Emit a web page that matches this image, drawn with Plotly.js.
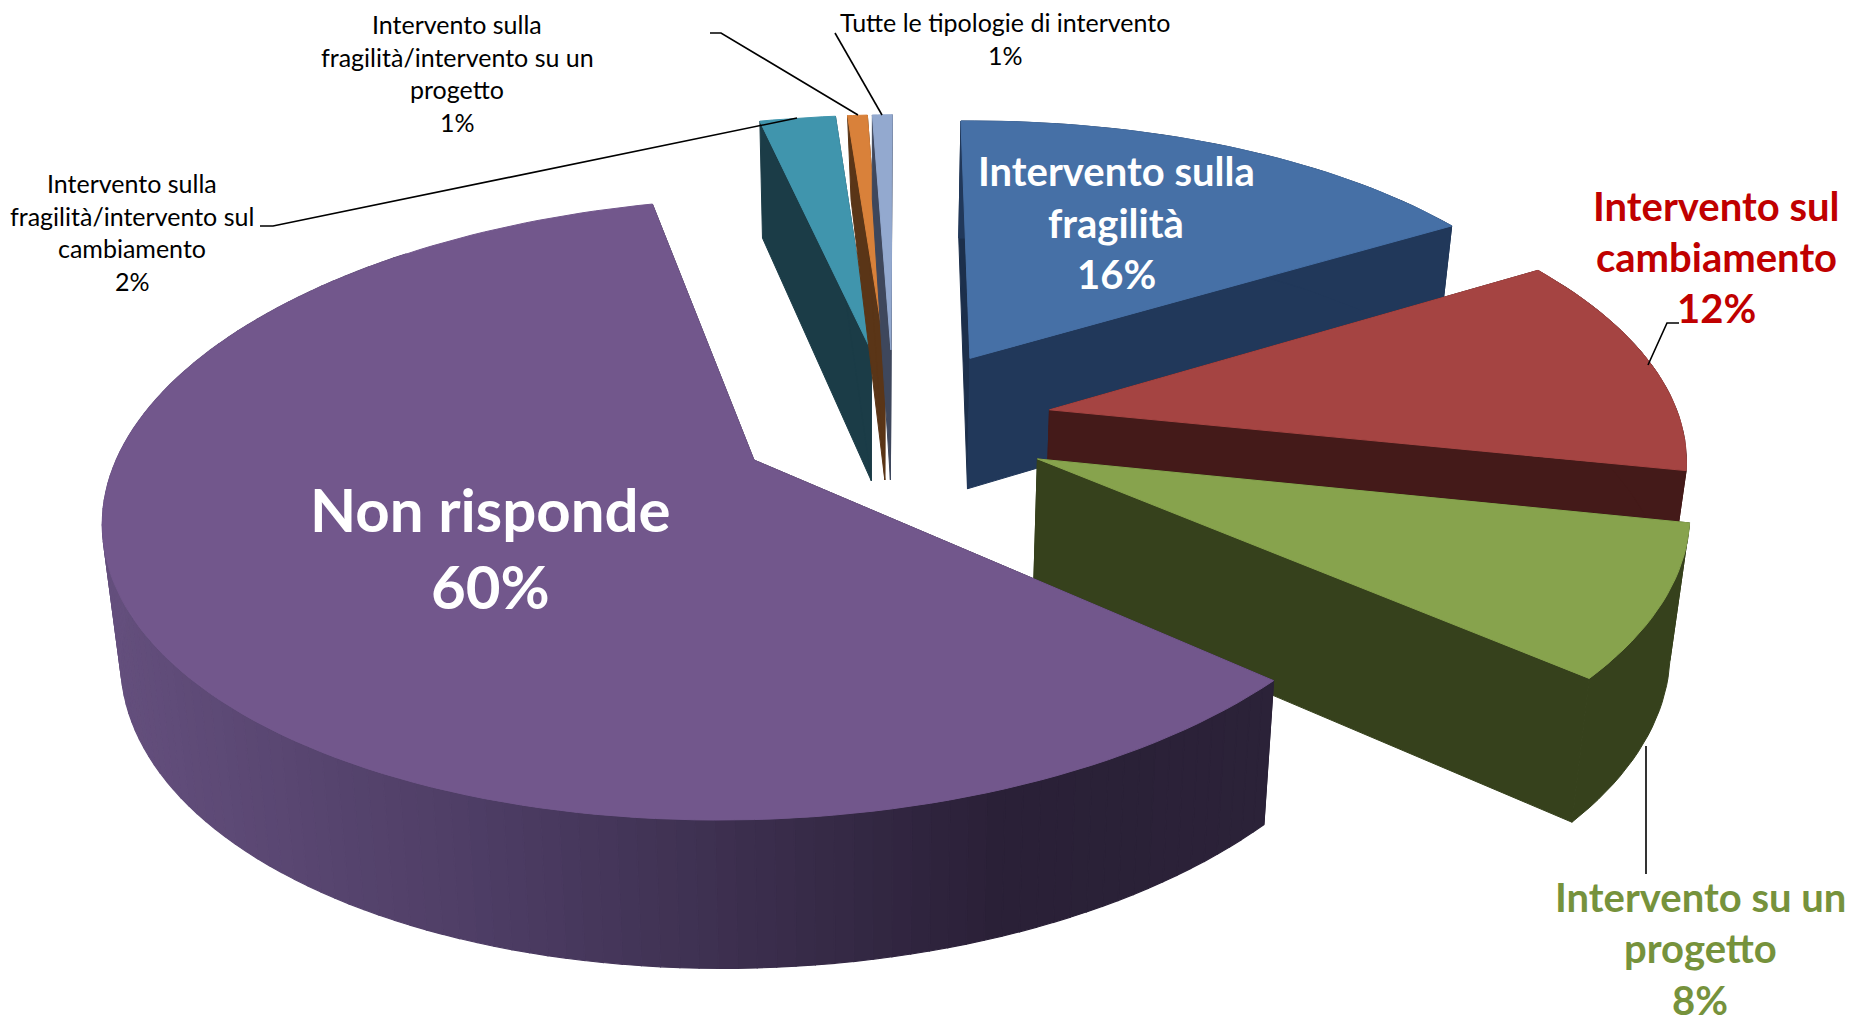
<!DOCTYPE html>
<html><head><meta charset="utf-8">
<script src="https://cdn.plot.ly/plotly-3.0.1.min.js"></script>
<style>html,body{margin:0;padding:0;background:#fff;overflow:hidden}</style>
</head><body><div id="chart" style="width:1851px;height:1026px"></div>
<script>
// Data (share of answers, %)
const categories = ["Intervento sulla fragilità","Intervento sul cambiamento","Intervento su un progetto","Non risponde",
  "Intervento sulla fragilità/intervento sul cambiamento","Intervento sulla fragilità/intervento su un progetto","Tutte le tipologie di intervento"];
const values = [16.5, 12, 8, 60, 2.3, 0.6, 0.6];
const topColors  = ["#4670A6","#A54442","#87A34D","#72578C","#4095AD","#D9813A","#93A9CF"];
const wallColors = ["#21385A","#441A19","#36411C","#2B2238","#1B3C47","#5A3517","#3E475C"];
const drawOrder = [0,4,5,6,1,2,3];
const sliceNudgeY = [0,1.5,5,0,0,0,0];
const backWallDepth = [1,1,1,1,1,0.72,0.72];
const backWallShiftX = [0,0,0,0,0,3,0];

// Camera of the 3-D pie
const view = {ox:754, oy:460, R:640, s:32, Q:303.5, k:0.157, m:0.0035, explode:0.2528, start:-0.8,
              vx:870, shrink:0.024, depth:135, depthSlope:85};

// Text labels: lines, centre x, centre y of each line
const labels = [
 {lines:["Intervento sulla","fragilità","16%"], x:1116, y:[171,223,274], size:40, color:"#FFFFFF", bold:true},
 {lines:["Intervento sul","cambiamento","12%"], x:1716, y:[206,257,308], size:40, color:"#C00000", bold:true},
 {lines:["Intervento su un","progetto","8%"], x:1700, y:[897,948,999.5], size:40, color:"#76923C", bold:true},
 {lines:["Non risponde","60%"], x:490, y:[509,586], size:60, color:"#FFFFFF", bold:true},
 {lines:["Intervento sulla","fragilità/intervento sul","cambiamento","2%"], x:132, y:[183,216,248,281], size:25, color:"#000000"},
 {lines:["Intervento sulla","fragilità/intervento su un","progetto","1%"], x:457, y:[24,57,89,122], size:25, color:"#000000"},
 {lines:["Tutte le tipologie di intervento","1%"], x:1005, y:[22,55], size:25, color:"#000000"}
];
const leaderX = [[260,273,797],[710,721,858],[835,882],[1679,1667,1648],[1646,1646]];
const leaderY = [[226,226,118],[33,33,115],[33,115],[323,323,365],[746,874]];

// ----- projection -----
const rad = d => d*Math.PI/180;
const total = values.reduce((a,b)=>a+b,0);
let cum = view.start;
const slices = values.map((v,i)=>{const a0=cum; cum+=v/total*360; return {a0,a1:cum,i};});
const purple = slices[3];
const pMid = rad((purple.a0+purple.a1)/2);
function ground(sl,r,deg){
  const m = rad((sl.a0+sl.a1)/2);
  return [view.explode*(Math.sin(m)-Math.sin(pMid)) + r*Math.sin(rad(deg)),
          view.explode*(Math.cos(m)-Math.cos(pMid)) + r*Math.cos(rad(deg))];
}
function top3(sl,r,deg){
  const [X,Y]=ground(sl,r,deg); const w=1+view.k*Y-view.m*X;
  return {x:view.ox+(view.R*X+view.s*Y)/w, y:view.oy-view.Q*Y/w+sliceNudgeY[sl.i], w};
}
function bot3(p,f,dx){
  const d=view.depth-view.depthSlope*(p.w-1);
  return {x:p.x+(view.vx-p.x)*view.shrink+(dx||0), y:p.y+d*(f===undefined?1:f)};
}
function arc(sl,a0,a1){
  const n=Math.max(4,Math.ceil(Math.abs(a1-a0)/1.5)), out=[];
  for(let j=0;j<=n;j++) out.push(top3(sl,1,a0+(a1-a0)*j/n));
  return out;
}
function poly(pts,color,name,lw){
  return {type:"scatter",mode:"lines",x:pts.map(p=>p.x).concat([pts[0].x]),y:pts.map(p=>p.y).concat([pts[0].y]),
    fill:"toself",fillcolor:color,line:{color:color,width:lw===undefined?1:lw},name:name,hoverinfo:"name",showlegend:false};
}
// purple side shading
const gradX=[100,500,1000,1300], gradC=[[100,79,125],[76,60,99],[42,32,55],[43,34,56]];
function shade(x){
  let i=0; while(i<gradX.length-2 && x>gradX[i+1]) i++;
  const t=Math.min(1,Math.max(0,(x-gradX[i])/(gradX[i+1]-gradX[i])));
  const c=gradC[i].map((v,j)=>Math.round(v+(gradC[i+1][j]-v)*t));
  return "rgb("+c.join(",")+")";
}
const traces=[];
drawOrder.forEach(i=>{
  const sl=slices[i], name=categories[i], col=wallColors[i];
  const ap=top3(sl,0,sl.a0), apB=bot3(ap);
  const a=arc(sl,sl.a0,sl.a1);
  const first=a[0], last=a[a.length-1];
  traces.push(poly([ap,first,bot3(first,backWallDepth[i],backWallShiftX[i]),apB],i===0?"#1C2F4B":col,name));
  traces.push(poly([ap,last,bot3(last),apB],col,name));
  if(i===3){
    for(let j=0;j+1<a.length;j++){
      const mx=(a[j].x+a[j+1].x)/2;
      if(a[j].y<480 && a[j].x>400) continue;
      traces.push(poly([a[j],a[j+1],bot3(a[j+1]),bot3(a[j])],shade(mx),name,1.2));
    }
  } else if(i<3){
    traces.push(poly(a.concat(a.slice().reverse().map(p=>bot3(p))),col,name));
  }
  traces.push(poly([ap].concat(a),topColors[i],name));
});

const annotations=[];
labels.forEach(l=>l.lines.forEach((t,j)=>annotations.push({
  xref:"x",yref:"y",x:l.x,y:l.y[j],text:l.bold?"<b>"+t+"</b>":t,showarrow:false,xanchor:"center",yanchor:"middle",
  font:{family:"Lato, 'Open Sans', sans-serif",size:l.size,color:l.color}
})));
const shapes=leaderX.map((xs,k)=>({type:"path",xref:"x",yref:"y",layer:"above",
    path:"M"+xs.map((x,j)=>x+","+leaderY[k][j]).join(" L"),line:{color:"#000",width:1.6}}));
Plotly.newPlot("chart",traces,{
  width:1851,height:1026,margin:{l:0,r:0,t:0,b:0},showlegend:false,
  paper_bgcolor:"#fff",plot_bgcolor:"#fff",
  xaxis:{range:[0,1851],visible:false,fixedrange:true},
  yaxis:{range:[1026,0],visible:false,fixedrange:true},
  annotations,shapes
},{displayModeBar:false,staticPlot:true});
</script></body></html>
